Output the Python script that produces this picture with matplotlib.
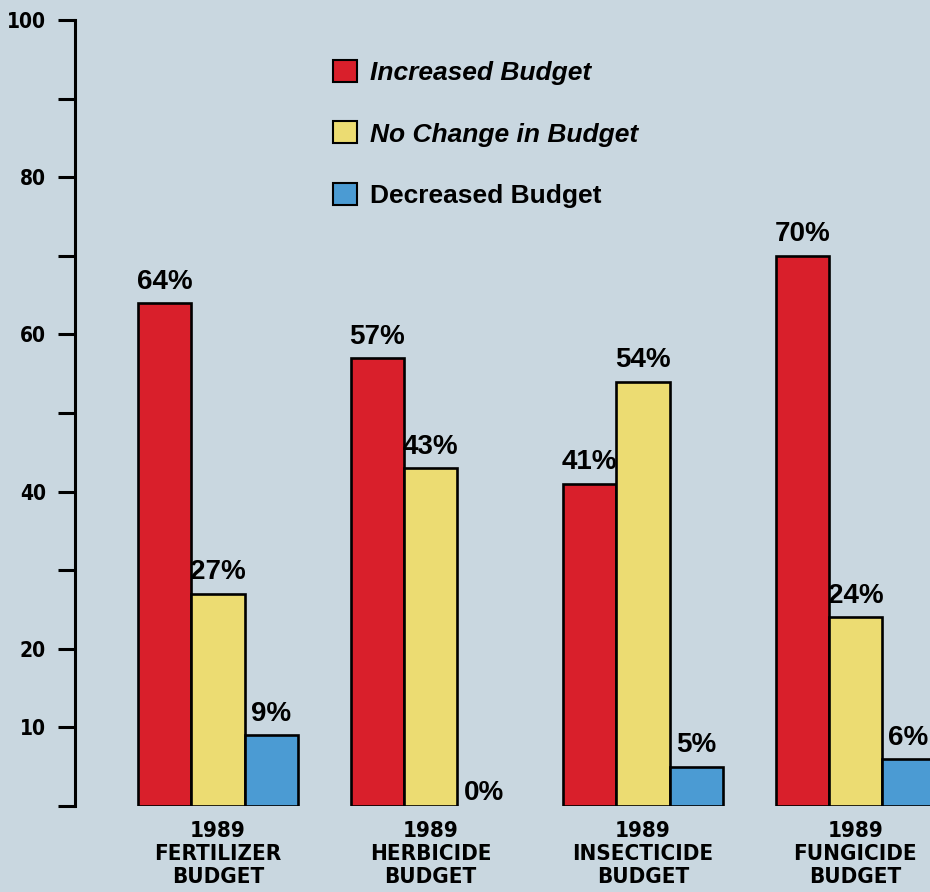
import numpy as np
import matplotlib.pyplot as plt
from matplotlib.ticker import FixedLocator, FixedFormatter

# budget survey, 1989
categories = ['1989\nFERTILIZER\nBUDGET', '1989\nHERBICIDE\nBUDGET',
              '1989\nINSECTICIDE\nBUDGET', '1989\nFUNGICIDE\nBUDGET']
series_names = ['Increased Budget', 'No Change in Budget', 'Decreased Budget']
increased = [64, 57, 41, 70]
no_change = [27, 43, 54, 24]
decreased = [9, 0, 5, 6]
y_ticks = [0, 10, 20, 30, 40, 50, 60, 70, 80, 90, 100]
y_tick_labels = ['', '10', '20', '', '40', '', '60', '', '80', '', '100']

colors = ['#d91f2b', '#ecdc72', '#4b9bd3']
bg = '#c9d7e0'
narrow = ['DejaVu Sans']
sans = ['Liberation Sans', 'DejaVu Sans']

fig = plt.figure(figsize=(9.3, 8.92), dpi=100, facecolor=bg)
ax = fig.add_axes([75 / 930, 86 / 892, 855 / 930, 786 / 892])
ax.set_facecolor(bg)

x = np.arange(len(categories))
width = 0.25
series = [increased, no_change, decreased]
handles = []
for i, (vals, name) in enumerate(zip(series, series_names)):
    offset = (i - 1) * width
    for xi, v in zip(x, vals):
        if v > 0:
            ax.bar(xi + offset, v, width, color=colors[i], edgecolor='black',
                   linewidth=1.9, zorder=2)
            ax.annotate(f'{v}%', (xi + offset, v), xytext=(0, 6),
                        textcoords='offset points', ha='center', va='bottom',
                        fontsize=20, fontweight='bold', family=sans)
        else:
            # no bar, label sits on the baseline
            ax.annotate(f'{v}%', (xi + offset, v), xytext=(0, 0),
                        textcoords='offset points', ha='center', va='bottom',
                        fontsize=20, fontweight='bold', family=sans)
    handles.append(plt.Rectangle((0, 0), 1, 1, facecolor=colors[i],
                                 edgecolor='black', linewidth=1.5))

ax.set_xlim(-0.673, 3.351)
ax.set_ylim(0, 100)

for side in ['top', 'right', 'bottom']:
    ax.spines[side].set_visible(False)
ax.spines['left'].set_linewidth(2.2)

ax.yaxis.set_major_locator(FixedLocator(y_ticks))
ax.yaxis.set_major_formatter(FixedFormatter(y_tick_labels))
ax.tick_params(axis='y', length=12, width=2.2, pad=9)
for lbl in ax.get_yticklabels():
    lbl.set_fontsize(15)
    lbl.set_fontweight('bold')
    lbl.set_family(narrow)
    lbl.set_fontstretch('condensed')

ax.set_xticks(x)
ax.set_xticklabels(categories, fontsize=16, fontweight='bold', family=narrow,
                   fontstretch='condensed', linespacing=1.17)
ax.tick_params(axis='x', length=0, pad=11)

leg = ax.legend(handles, series_names, loc='upper left',
                bbox_to_anchor=(333 / 930, (892 - 60) / 892),
                bbox_transform=fig.transFigure, frameon=False,
                borderaxespad=0, borderpad=0, handlelength=0.9,
                handleheight=0.9, handletextpad=0.5, labelspacing=1.38,
                prop={'family': sans, 'size': 19, 'weight': 'bold'})
for i, t in enumerate(leg.get_texts()):
    if i < 2:
        t.set_style('italic')

fig.savefig('out.png', dpi=100, facecolor=bg)
